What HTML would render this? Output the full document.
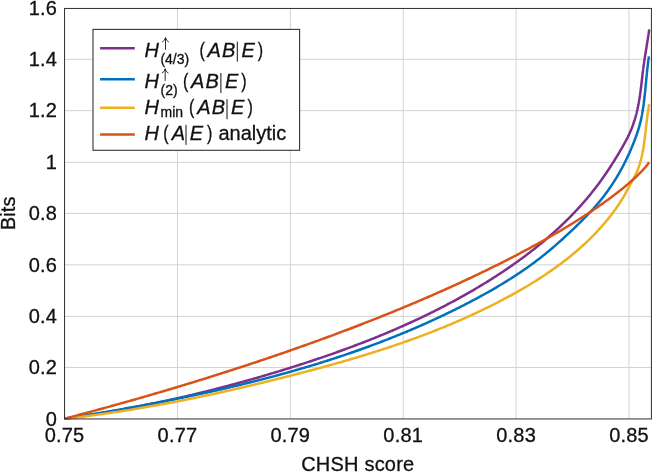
<!DOCTYPE html>
<html><head><meta charset="utf-8"><title>chart</title>
<style>
html,body{margin:0;padding:0;background:#fff;}
body{width:652px;height:472px;overflow:hidden;}
svg{display:block;font-family:"Liberation Sans",sans-serif;will-change:transform;}
text{font-size:20.0px;fill:#111;stroke:#111;stroke-width:0.3px;}
.tk text{letter-spacing:0.2px;}
.grid line{stroke:#d2d2d2;stroke-width:1;}
.cv path{fill:none;stroke-width:2.5;stroke-linejoin:round;stroke-linecap:butt;}
.it{font-style:italic;}
</style></head><body>
<svg width="652" height="472" viewBox="0 0 652 472">
<rect width="652" height="472" fill="#fff"/>
<g class="grid"><line x1="177.44" y1="8.45" x2="177.44" y2="418.95"/><line x1="290.33" y1="8.45" x2="290.33" y2="418.95"/><line x1="403.22" y1="8.45" x2="403.22" y2="418.95"/><line x1="516.11" y1="8.45" x2="516.11" y2="418.95"/><line x1="629.00" y1="8.45" x2="629.00" y2="418.95"/><line x1="64.55" y1="367.45" x2="651.4" y2="367.45"/><line x1="64.55" y1="316.35" x2="651.4" y2="316.35"/><line x1="64.55" y1="264.80" x2="651.4" y2="264.80"/><line x1="64.55" y1="213.40" x2="651.4" y2="213.40"/><line x1="64.55" y1="162.30" x2="651.4" y2="162.30"/><line x1="64.55" y1="110.65" x2="651.4" y2="110.65"/><line x1="64.55" y1="59.30" x2="651.4" y2="59.30"/></g>
<g class="cv">
<path d="M64.60,418.70 L66.10,418.50 L67.60,418.29 L69.10,418.08 L70.60,417.88 L72.10,417.67 L73.60,417.45 L75.10,417.24 L76.60,417.02 L78.10,416.80 L79.60,416.58 L81.10,416.36 L82.60,416.14 L84.11,415.91 L85.61,415.68 L87.11,415.45 L88.61,415.22 L90.11,414.99 L91.61,414.75 L93.11,414.51 L94.61,414.27 L96.11,414.03 L97.62,413.79 L99.12,413.55 L100.62,413.30 L102.12,413.05 L103.62,412.80 L105.12,412.55 L106.63,412.29 L108.13,412.04 L109.63,411.78 L111.13,411.52 L112.63,411.26 L114.13,410.99 L115.63,410.73 L117.14,410.46 L118.64,410.19 L120.14,409.92 L121.64,409.65 L123.14,409.37 L124.64,409.10 L126.14,408.82 L127.64,408.54 L129.14,408.26 L130.64,407.98 L132.14,407.69 L133.65,407.40 L135.15,407.11 L136.65,406.82 L138.15,406.53 L139.65,406.24 L141.15,405.94 L142.65,405.64 L144.15,405.34 L145.65,405.04 L147.14,404.74 L148.64,404.44 L150.14,404.13 L151.64,403.82 L153.14,403.51 L154.64,403.20 L156.14,402.89 L157.64,402.57 L159.13,402.25 L160.63,401.94 L162.13,401.62 L163.63,401.29 L165.12,400.97 L166.62,400.64 L168.12,400.32 L169.61,399.99 L171.11,399.66 L172.61,399.33 L174.10,398.99 L175.60,398.66 L177.09,398.32 L178.59,397.98 L180.08,397.64 L181.58,397.30 L183.07,396.95 L184.56,396.61 L186.06,396.26 L187.55,395.91 L189.04,395.56 L190.54,395.21 L192.03,394.85 L193.52,394.50 L195.01,394.14 L196.50,393.78 L198.00,393.42 L199.49,393.06 L200.98,392.69 L202.47,392.33 L203.96,391.96 L205.45,391.59 L206.93,391.22 L208.42,390.85 L209.91,390.47 L211.40,390.10 L212.89,389.72 L214.37,389.34 L215.86,388.96 L217.35,388.58 L218.83,388.20 L220.32,387.81 L221.80,387.43 L223.29,387.04 L224.77,386.65 L226.25,386.26 L227.74,385.86 L229.22,385.47 L230.70,385.07 L232.18,384.68 L233.67,384.28 L235.15,383.88 L236.63,383.47 L238.11,383.07 L239.59,382.67 L241.07,382.26 L242.54,381.85 L244.02,381.44 L245.50,381.03 L246.98,380.62 L248.45,380.20 L249.93,379.78 L251.41,379.37 L252.88,378.95 L254.35,378.53 L255.83,378.10 L257.30,377.68 L258.77,377.26 L260.25,376.83 L261.72,376.40 L263.19,375.97 L264.66,375.54 L266.13,375.11 L267.60,374.67 L269.07,374.24 L270.53,373.80 L272.00,373.36 L273.47,372.92 L274.94,372.48 L276.40,372.04 L277.87,371.59 L279.33,371.15 L280.79,370.70 L282.26,370.25 L283.72,369.80 L285.18,369.35 L286.64,368.90 L288.10,368.44 L289.56,367.99 L291.02,367.53 L292.48,367.07 L293.94,366.61 L295.39,366.15 L296.85,365.68 L298.31,365.22 L299.76,364.75 L301.22,364.29 L302.67,363.82 L304.12,363.35 L305.57,362.87 L307.02,362.40 L308.48,361.92 L309.93,361.45 L311.37,360.97 L312.82,360.49 L314.27,360.00 L315.72,359.52 L317.16,359.04 L318.61,358.55 L320.05,358.06 L321.50,357.57 L322.94,357.08 L324.38,356.58 L325.82,356.09 L327.26,355.59 L328.70,355.09 L330.14,354.59 L331.58,354.08 L333.02,353.58 L334.45,353.07 L335.89,352.56 L337.32,352.05 L338.76,351.54 L340.19,351.02 L341.62,350.51 L343.05,349.99 L344.48,349.47 L345.91,348.95 L347.34,348.42 L348.77,347.89 L350.19,347.37 L351.62,346.84 L353.04,346.30 L354.47,345.77 L355.89,345.23 L357.31,344.69 L358.73,344.15 L360.15,343.61 L361.57,343.06 L362.99,342.51 L364.41,341.96 L365.83,341.41 L367.24,340.86 L368.66,340.30 L370.07,339.74 L371.48,339.18 L372.89,338.62 L374.30,338.05 L375.71,337.49 L377.12,336.92 L378.53,336.34 L379.94,335.77 L381.34,335.19 L382.75,334.61 L384.15,334.03 L385.55,333.44 L386.95,332.86 L388.35,332.27 L389.75,331.68 L391.15,331.08 L392.55,330.49 L393.94,329.89 L395.34,329.29 L396.73,328.68 L398.13,328.07 L399.52,327.46 L400.91,326.85 L402.30,326.24 L403.69,325.62 L405.07,325.00 L406.46,324.38 L407.85,323.75 L409.23,323.13 L410.61,322.50 L411.99,321.86 L413.38,321.23 L414.75,320.59 L416.13,319.95 L417.51,319.30 L418.89,318.66 L420.26,318.01 L421.63,317.35 L423.01,316.70 L424.38,316.04 L425.75,315.38 L427.12,314.72 L428.48,314.05 L429.85,313.38 L431.22,312.71 L432.58,312.03 L433.94,311.35 L435.30,310.67 L436.66,309.99 L438.02,309.30 L439.38,308.61 L440.74,307.92 L442.09,307.22 L443.45,306.52 L444.80,305.82 L446.15,305.11 L447.50,304.41 L448.85,303.69 L450.20,302.98 L451.55,302.26 L452.89,301.54 L454.23,300.82 L455.58,300.09 L456.92,299.36 L458.26,298.62 L459.60,297.89 L460.93,297.15 L462.27,296.40 L463.60,295.66 L464.94,294.91 L466.27,294.15 L467.60,293.40 L468.93,292.64 L470.26,291.87 L471.58,291.11 L472.91,290.34 L474.23,289.56 L475.55,288.79 L476.87,288.01 L478.19,287.22 L479.51,286.44 L480.82,285.65 L482.14,284.85 L483.45,284.05 L484.76,283.25 L486.07,282.45 L487.37,281.64 L488.68,280.83 L489.98,280.01 L491.28,279.20 L492.58,278.37 L493.87,277.55 L495.17,276.72 L496.46,275.89 L497.75,275.05 L499.03,274.21 L500.32,273.37 L501.60,272.52 L502.88,271.67 L504.16,270.81 L505.43,269.95 L506.70,269.09 L507.97,268.23 L509.24,267.36 L510.50,266.48 L511.76,265.61 L513.02,264.73 L514.28,263.84 L515.53,262.95 L516.78,262.06 L518.03,261.17 L519.27,260.27 L520.51,259.36 L521.75,258.45 L522.98,257.54 L524.21,256.63 L525.44,255.71 L526.66,254.79 L527.89,253.86 L529.10,252.93 L530.32,251.99 L531.53,251.06 L532.74,250.11 L533.94,249.17 L535.14,248.22 L536.34,247.26 L537.53,246.30 L538.72,245.34 L539.90,244.38 L541.08,243.41 L542.26,242.43 L543.44,241.45 L544.61,240.47 L545.77,239.48 L546.93,238.49 L548.09,237.50 L549.24,236.50 L550.39,235.49 L551.54,234.49 L552.68,233.48 L553.82,232.46 L554.95,231.44 L556.08,230.42 L557.20,229.39 L558.32,228.35 L559.43,227.32 L560.54,226.28 L561.65,225.23 L562.75,224.18 L563.84,223.13 L564.93,222.07 L566.02,221.01 L567.10,219.94 L568.18,218.87 L569.25,217.79 L570.32,216.71 L571.38,215.63 L572.43,214.54 L573.48,213.45 L574.53,212.35 L575.57,211.25 L576.61,210.14 L577.64,209.03 L578.66,207.92 L579.68,206.80 L580.70,205.67 L581.71,204.54 L582.71,203.41 L583.71,202.27 L584.70,201.13 L585.69,199.98 L586.67,198.83 L587.64,197.68 L588.61,196.52 L589.57,195.35 L590.53,194.18 L591.48,193.01 L592.43,191.83 L593.37,190.65 L594.30,189.46 L595.23,188.26 L596.15,187.07 L597.07,185.86 L597.98,184.66 L598.88,183.45 L599.78,182.23 L600.67,181.01 L601.55,179.78 L602.43,178.55 L603.30,177.32 L604.17,176.07 L605.03,174.83 L605.89,173.58 L606.74,172.32 L607.58,171.07 L608.42,169.80 L609.26,168.53 L610.09,167.26 L610.92,165.98 L611.74,164.69 L612.56,163.40 L613.37,162.11 L614.18,160.81 L614.99,159.51 L615.80,158.20 L616.60,156.88 L617.40,155.56 L618.19,154.24 L618.98,152.91 L619.77,151.58 L620.56,150.24 L621.34,148.89 L622.12,147.54 L622.90,146.19 L623.21,145.64 L623.51,145.10 L623.66,144.83 L623.81,144.56 L624.11,144.02 L624.41,143.48 L624.42,143.46 L624.71,142.94 L625.00,142.40 L625.17,142.09 L625.30,141.86 L625.59,141.32 L625.88,140.77 L625.91,140.72 L626.17,140.23 L626.45,139.69 L626.63,139.34 L626.73,139.14 L627.02,138.59 L627.29,138.05 L627.34,137.95 L627.57,137.50 L627.84,136.95 L628.03,136.57 L628.11,136.40 L628.38,135.85 L628.65,135.30 L628.71,135.17 L628.91,134.75 L629.17,134.19 L629.36,133.77 L629.42,133.64 L629.68,133.09 L629.93,132.53 L630.00,132.37 L630.17,131.98 L630.42,131.42 L630.61,130.96 L630.65,130.86 L630.89,130.30 L631.12,129.75 L631.20,129.54 L631.35,129.19 L631.58,128.63 L631.77,128.13 L631.80,128.07 L632.02,127.50 L632.23,126.94 L632.32,126.70 L632.44,126.38 L632.65,125.81 L632.85,125.28 L632.86,125.25 L633.06,124.69 L633.26,124.12 L633.36,123.84 L633.46,123.55 L633.65,122.99 L633.84,122.42 L633.84,122.41 L634.03,121.85 L634.21,121.28 L634.31,120.97 L634.39,120.71 L634.57,120.14 L634.75,119.57 L634.76,119.52 L634.92,119.00 L635.09,118.43 L635.19,118.07 L635.26,117.85 L635.42,117.28 L635.58,116.71 L635.61,116.62 L635.74,116.13 L635.90,115.56 L636.00,115.17 L636.05,114.98 L636.20,114.40 L636.35,113.83 L636.38,113.70 L636.50,113.25 L636.64,112.67 L636.75,112.24 L636.78,112.09 L636.92,111.51 L637.06,110.93 L637.10,110.77 L637.19,110.35 L637.33,109.77 L637.43,109.30 L637.46,109.19 L637.58,108.61 L637.71,108.02 L637.75,107.83 L637.83,107.44 L637.95,106.86 L638.06,106.35 L638.07,106.27 L638.19,105.69 L638.30,105.10 L638.35,104.87 L638.42,104.52 L638.53,103.93 L638.63,103.38 L638.64,103.34 L638.75,102.76 L638.85,102.17 L638.90,101.90 L638.95,101.58 L639.06,100.99 L639.16,100.40 L639.16,100.40 L639.26,99.81 L639.35,99.22 L639.40,98.91 L639.45,98.63 L639.54,98.04 L639.63,97.45 L639.64,97.41 L639.72,96.86 L639.81,96.27 L639.87,95.92 L639.90,95.67 L639.99,95.08 L640.07,94.49 L640.08,94.41 L640.16,93.89 L640.24,93.30 L640.30,92.91 L640.32,92.71 L640.40,92.11 L640.48,91.52 L640.50,91.40 L640.56,90.92 L640.64,90.33 L640.70,89.90 L640.72,89.73 L640.79,89.13 L640.87,88.54 L640.89,88.38 L640.95,87.94 L641.02,87.34 L641.08,86.87 L641.09,86.74 L641.17,86.15 L641.24,85.55 L641.26,85.36 L641.31,84.95 L641.38,84.35 L641.44,83.84 L641.45,83.75 L641.52,83.15 L641.59,82.55 L641.62,82.33 L641.66,81.96 L641.73,81.36 L641.80,80.81 L641.80,80.76 L641.87,80.16 L641.94,79.56 L641.97,79.29 L642.01,78.96 L642.08,78.35 L642.15,77.77 L642.15,77.75 L642.22,77.15 L642.29,76.55 L642.32,76.25 L642.36,75.95 L642.43,75.35 L642.50,74.75 L642.50,74.72 L642.57,74.15 L642.64,73.55 L642.68,73.20 L642.71,72.94 L642.78,72.34 L642.86,71.74 L642.86,71.68 L642.93,71.14 L643.00,70.54 L643.05,70.15 L643.08,69.93 L643.15,69.33 L643.23,68.73 L643.24,68.63 L643.31,68.13 L643.38,67.53 L643.44,67.10 L643.46,66.92 L643.54,66.32 L643.62,65.72 L643.64,65.58 L643.70,65.12 L643.79,64.51 L643.85,64.05 L643.87,63.91 L643.95,63.31 L644.04,62.71 L644.07,62.53 L644.13,62.11 L644.22,61.50 L644.29,61.01 L644.30,60.90 L644.39,60.30 L644.48,59.70 L644.52,59.48 L644.58,59.10 L644.67,58.50 L644.75,57.96 L644.76,57.89 L644.85,57.29 L644.95,56.69 L644.99,56.44 L645.04,56.09 L645.14,55.49 L645.23,54.91 L645.23,54.89 L645.33,54.29 L645.42,53.69 L645.47,53.39 L645.52,53.09 L645.62,52.49 L645.72,51.89 L645.72,51.87 L645.81,51.29 L645.91,50.69 L645.97,50.36 L646.01,50.09 L646.11,49.49 L646.21,48.89 L646.21,48.84 L646.30,48.29 L646.40,47.69 L646.46,47.32 L646.50,47.09 L646.60,46.50 L646.70,45.90 L646.71,45.81 L646.79,45.30 L646.89,44.70 L646.96,44.30 L646.99,44.11 L647.08,43.51 L647.18,42.91 L647.20,42.79 L647.28,42.32 L647.37,41.72 L647.44,41.28 L647.47,41.13 L647.56,40.53 L647.66,39.94 L647.68,39.77 L647.75,39.34 L647.84,38.75 L647.92,38.27 L647.93,38.16 L648.03,37.56 L648.12,36.97 L648.15,36.77 L648.21,36.38 L648.29,35.79 L648.37,35.27 L648.38,35.19 L648.47,34.60 L648.55,34.01 L648.59,33.77 L648.64,33.42 L648.72,32.83 L648.80,32.28 L648.81,32.24 L648.89,31.65 L648.97,31.06 L649.00,30.79 L649.05,30.48 L649.12,29.89 L649.20,29.30" stroke="#7e2f8e"/>
<path d="M64.60,418.70 L66.07,418.47 L67.54,418.23 L69.01,418.00 L70.48,417.76 L71.95,417.53 L73.42,417.29 L74.89,417.05 L76.36,416.81 L77.83,416.57 L79.30,416.34 L80.77,416.10 L82.24,415.86 L83.71,415.61 L85.18,415.37 L86.65,415.13 L88.12,414.89 L89.59,414.64 L91.06,414.40 L92.54,414.16 L94.01,413.91 L95.48,413.66 L96.95,413.42 L98.42,413.17 L99.89,412.92 L101.37,412.67 L102.84,412.42 L104.31,412.17 L105.78,411.92 L107.25,411.67 L108.72,411.42 L110.20,411.17 L111.67,410.91 L113.14,410.66 L114.61,410.40 L116.08,410.15 L117.55,409.89 L119.03,409.63 L120.50,409.37 L121.97,409.12 L123.44,408.86 L124.91,408.59 L126.39,408.33 L127.86,408.07 L129.33,407.81 L130.80,407.54 L132.27,407.28 L133.74,407.01 L135.22,406.75 L136.69,406.48 L138.16,406.21 L139.63,405.94 L141.10,405.67 L142.57,405.40 L144.04,405.13 L145.51,404.85 L146.99,404.58 L148.46,404.30 L149.93,404.03 L151.40,403.75 L152.87,403.47 L154.34,403.19 L155.81,402.91 L157.28,402.63 L158.75,402.35 L160.22,402.07 L161.69,401.78 L163.16,401.50 L164.63,401.21 L166.10,400.93 L167.57,400.64 L169.03,400.35 L170.50,400.06 L171.97,399.77 L173.44,399.47 L174.91,399.18 L176.38,398.89 L177.84,398.59 L179.31,398.29 L180.78,398.00 L182.25,397.70 L183.71,397.40 L185.18,397.09 L186.65,396.79 L188.11,396.49 L189.58,396.18 L191.05,395.88 L192.51,395.57 L193.98,395.26 L195.44,394.95 L196.91,394.64 L198.37,394.33 L199.84,394.02 L201.30,393.70 L202.77,393.39 L204.23,393.07 L205.69,392.75 L207.16,392.43 L208.62,392.11 L210.08,391.79 L211.54,391.47 L213.00,391.14 L214.47,390.81 L215.93,390.49 L217.39,390.16 L218.85,389.83 L220.31,389.50 L221.77,389.16 L223.23,388.83 L224.69,388.50 L226.15,388.16 L227.61,387.82 L229.07,387.48 L230.52,387.14 L231.98,386.80 L233.44,386.45 L234.89,386.11 L236.35,385.76 L237.81,385.41 L239.26,385.07 L240.72,384.71 L242.17,384.36 L243.63,384.01 L245.08,383.65 L246.54,383.30 L247.99,382.94 L249.44,382.58 L250.89,382.22 L252.35,381.85 L253.80,381.49 L255.25,381.12 L256.70,380.76 L258.15,380.39 L259.60,380.02 L261.05,379.65 L262.50,379.27 L263.95,378.90 L265.40,378.52 L266.84,378.14 L268.29,377.76 L269.74,377.38 L271.18,377.00 L272.63,376.61 L274.07,376.23 L275.52,375.84 L276.96,375.45 L278.41,375.06 L279.85,374.66 L281.29,374.27 L282.73,373.87 L284.17,373.48 L285.62,373.08 L287.06,372.67 L288.50,372.27 L289.94,371.87 L291.37,371.46 L292.81,371.05 L294.25,370.64 L295.69,370.23 L297.12,369.82 L298.56,369.40 L300.00,368.98 L301.43,368.57 L302.86,368.14 L304.30,367.72 L305.73,367.30 L307.16,366.87 L308.60,366.44 L310.03,366.01 L311.46,365.58 L312.89,365.15 L314.32,364.71 L315.75,364.28 L317.17,363.84 L318.60,363.40 L320.03,362.95 L321.45,362.51 L322.88,362.06 L324.30,361.61 L325.73,361.16 L327.15,360.71 L328.57,360.26 L330.00,359.80 L331.42,359.34 L332.84,358.88 L334.26,358.42 L335.68,357.96 L337.10,357.49 L338.52,357.02 L339.93,356.55 L341.35,356.08 L342.77,355.61 L344.18,355.13 L345.59,354.65 L347.01,354.17 L348.42,353.69 L349.83,353.21 L351.25,352.72 L352.66,352.23 L354.07,351.74 L355.48,351.25 L356.88,350.75 L358.29,350.26 L359.70,349.76 L361.10,349.26 L362.51,348.75 L363.91,348.25 L365.32,347.74 L366.72,347.23 L368.12,346.72 L369.52,346.21 L370.92,345.69 L372.32,345.17 L373.72,344.65 L375.12,344.13 L376.52,343.60 L377.92,343.08 L379.31,342.55 L380.71,342.02 L382.10,341.48 L383.49,340.95 L384.88,340.41 L386.28,339.87 L387.67,339.32 L389.06,338.78 L390.44,338.23 L391.83,337.68 L393.22,337.13 L394.61,336.58 L395.99,336.02 L397.38,335.46 L398.76,334.90 L400.14,334.34 L401.52,333.77 L402.90,333.20 L404.28,332.63 L405.66,332.06 L407.04,331.48 L408.42,330.91 L409.79,330.33 L411.17,329.74 L412.54,329.16 L413.91,328.57 L415.29,327.98 L416.66,327.39 L418.03,326.80 L419.40,326.20 L420.77,325.60 L422.13,325.00 L423.50,324.39 L424.86,323.79 L426.23,323.18 L427.59,322.56 L428.95,321.95 L430.32,321.33 L431.68,320.71 L433.04,320.09 L434.39,319.47 L435.75,318.84 L437.11,318.21 L438.46,317.58 L439.82,316.94 L441.17,316.31 L442.52,315.67 L443.87,315.02 L445.22,314.38 L446.57,313.73 L447.92,313.08 L449.27,312.43 L450.61,311.77 L451.96,311.11 L453.30,310.45 L454.64,309.79 L455.98,309.12 L457.32,308.45 L458.66,307.78 L460.00,307.11 L461.34,306.43 L462.67,305.75 L464.01,305.07 L465.34,304.38 L466.67,303.69 L468.00,303.00 L469.33,302.31 L470.66,301.61 L471.99,300.92 L473.32,300.21 L474.64,299.51 L475.97,298.80 L477.29,298.09 L478.61,297.38 L479.93,296.66 L481.25,295.94 L482.56,295.22 L483.88,294.49 L485.19,293.76 L486.50,293.03 L487.81,292.30 L489.12,291.56 L490.42,290.82 L491.72,290.07 L493.02,289.32 L494.32,288.57 L495.62,287.81 L496.91,287.05 L498.20,286.29 L499.49,285.52 L500.78,284.75 L502.06,283.98 L503.35,283.20 L504.62,282.42 L505.90,281.63 L507.17,280.84 L508.44,280.05 L509.71,279.25 L510.98,278.45 L512.24,277.65 L513.50,276.84 L514.75,276.02 L516.00,275.20 L517.25,274.38 L518.50,273.56 L519.74,272.73 L520.98,271.89 L522.21,271.05 L523.45,270.21 L524.67,269.36 L525.90,268.51 L527.12,267.65 L528.34,266.79 L529.55,265.92 L530.76,265.05 L531.97,264.17 L533.17,263.29 L534.36,262.41 L535.56,261.52 L536.75,260.62 L537.93,259.72 L539.11,258.82 L540.29,257.91 L541.46,256.99 L542.63,256.07 L543.79,255.14 L544.95,254.21 L546.10,253.28 L547.25,252.34 L548.39,251.39 L549.53,250.44 L550.67,249.49 L551.80,248.53 L552.93,247.56 L554.05,246.59 L555.17,245.62 L556.29,244.65 L557.40,243.67 L558.51,242.68 L559.62,241.69 L560.72,240.70 L561.82,239.71 L562.92,238.71 L564.02,237.71 L565.11,236.70 L566.20,235.69 L567.28,234.68 L568.37,233.67 L569.45,232.66 L570.53,231.64 L571.61,230.62 L572.69,229.59 L573.76,228.57 L574.84,227.54 L575.91,226.51 L576.97,225.48 L578.04,224.45 L579.10,223.41 L580.16,222.37 L581.22,221.33 L582.27,220.28 L583.32,219.23 L584.37,218.18 L585.41,217.12 L586.44,216.06 L587.47,214.99 L588.50,213.92 L589.52,212.84 L590.53,211.76 L591.54,210.67 L592.54,209.58 L593.54,208.48 L594.52,207.38 L595.50,206.27 L596.48,205.15 L597.44,204.03 L598.40,202.90 L599.35,201.76 L600.29,200.62 L601.22,199.47 L602.14,198.31 L603.05,197.15 L603.96,195.97 L604.85,194.79 L605.74,193.61 L606.62,192.42 L607.49,191.22 L608.35,190.01 L609.20,188.80 L610.04,187.58 L610.88,186.35 L611.70,185.12 L612.52,183.88 L613.33,182.64 L614.13,181.39 L614.92,180.13 L615.70,178.87 L616.48,177.60 L617.24,176.33 L618.00,175.05 L618.75,173.76 L619.49,172.47 L620.01,171.54 L620.22,171.18 L620.31,171.01 L620.60,170.49 L620.89,169.96 L620.94,169.87 L621.18,169.44 L621.47,168.91 L621.65,168.57 L621.75,168.38 L622.04,167.85 L622.32,167.32 L622.36,167.26 L622.61,166.79 L622.89,166.26 L623.06,165.94 L623.17,165.73 L623.44,165.20 L623.72,164.66 L623.74,164.62 L624.00,164.13 L624.27,163.59 L624.42,163.29 L624.54,163.05 L624.81,162.52 L625.08,161.98 L625.10,161.96 L625.35,161.44 L625.62,160.90 L625.76,160.62 L625.89,160.36 L626.15,159.82 L626.41,159.28 L626.41,159.28 L626.67,158.73 L626.94,158.19 L627.06,157.93 L627.19,157.65 L627.45,157.10 L627.70,156.58 L627.71,156.55 L627.96,156.01 L628.22,155.46 L628.33,155.22 L628.47,154.91 L628.72,154.36 L628.95,153.86 L628.97,153.81 L629.22,153.26 L629.46,152.71 L629.56,152.50 L629.71,152.16 L629.95,151.61 L630.16,151.13 L630.19,151.06 L630.43,150.50 L630.67,149.95 L630.76,149.75 L630.91,149.39 L631.15,148.84 L631.35,148.37 L631.39,148.28 L631.62,147.72 L631.85,147.17 L631.92,146.99 L632.08,146.61 L632.31,146.05 L632.50,145.61 L632.54,145.49 L632.77,144.93 L633.00,144.37 L633.06,144.22 L633.22,143.80 L633.45,143.24 L633.61,142.82 L633.67,142.68 L633.89,142.12 L634.11,141.55 L634.16,141.42 L634.33,140.99 L634.54,140.42 L634.69,140.02 L634.76,139.85 L634.97,139.29 L635.18,138.72 L635.22,138.62 L635.39,138.15 L635.60,137.58 L635.74,137.21 L635.81,137.02 L636.02,136.45 L636.22,135.88 L636.25,135.80 L636.42,135.31 L636.63,134.73 L636.75,134.38 L636.82,134.16 L637.02,133.59 L637.22,133.02 L637.23,132.96 L637.41,132.44 L637.60,131.87 L637.71,131.54 L637.79,131.30 L637.97,130.72 L638.15,130.15 L638.17,130.11 L638.34,129.57 L638.51,128.99 L638.61,128.68 L638.69,128.42 L638.86,127.84 L639.03,127.26 L639.03,127.25 L639.20,126.68 L639.36,126.10 L639.44,125.82 L639.53,125.52 L639.68,124.94 L639.83,124.38 L639.84,124.36 L639.99,123.78 L640.14,123.20 L640.21,122.94 L640.29,122.62 L640.43,122.04 L640.56,121.49 L640.57,121.45 L640.70,120.87 L640.84,120.29 L640.89,120.05 L640.97,119.70 L641.10,119.12 L641.21,118.60 L641.22,118.53 L641.34,117.95 L641.46,117.36 L641.51,117.15 L641.58,116.78 L641.70,116.19 L641.79,115.69 L641.81,115.60 L641.92,115.02 L642.03,114.43 L642.06,114.24 L642.14,113.84 L642.24,113.25 L642.32,112.78 L642.34,112.66 L642.44,112.08 L642.54,111.49 L642.57,111.32 L642.64,110.90 L642.73,110.31 L642.80,109.86 L642.83,109.72 L642.92,109.12 L643.01,108.53 L643.03,108.39 L643.10,107.94 L643.19,107.35 L643.25,106.93 L643.27,106.76 L643.36,106.17 L643.44,105.57 L643.46,105.46 L643.52,104.98 L643.60,104.39 L643.66,103.99 L643.68,103.79 L643.76,103.20 L643.84,102.61 L643.85,102.51 L643.92,102.01 L643.99,101.42 L644.04,101.04 L644.06,100.82 L644.14,100.23 L644.21,99.63 L644.22,99.56 L644.28,99.03 L644.35,98.44 L644.39,98.09 L644.42,97.84 L644.49,97.25 L644.55,96.65 L644.56,96.61 L644.62,96.05 L644.69,95.45 L644.72,95.13 L644.75,94.86 L644.82,94.26 L644.88,93.66 L644.88,93.64 L644.94,93.06 L645.00,92.47 L645.04,92.16 L645.07,91.87 L645.13,91.27 L645.19,90.68 L645.19,90.67 L645.25,90.07 L645.31,89.47 L645.34,89.19 L645.37,88.87 L645.43,88.27 L645.48,87.71 L645.49,87.67 L645.54,87.07 L645.60,86.47 L645.63,86.22 L645.66,85.87 L645.72,85.27 L645.77,84.73 L645.77,84.67 L645.83,84.07 L645.89,83.47 L645.91,83.24 L645.95,82.87 L646.00,82.27 L646.05,81.75 L646.06,81.67 L646.12,81.07 L646.17,80.47 L646.19,80.26 L646.23,79.86 L646.29,79.26 L646.34,78.77 L646.35,78.66 L646.41,78.06 L646.46,77.46 L646.48,77.28 L646.52,76.86 L646.58,76.26 L646.63,75.79 L646.64,75.65 L646.70,75.05 L646.76,74.45 L646.77,74.30 L646.82,73.85 L646.88,73.25 L646.92,72.80 L646.94,72.64 L647.00,72.04 L647.06,71.44 L647.08,71.31 L647.13,70.84 L647.19,70.23 L647.23,69.82 L647.25,69.63 L647.32,69.03 L647.39,68.43 L647.40,68.33 L647.45,67.83 L647.52,67.22 L647.56,66.83 L647.59,66.62 L647.66,66.02 L647.73,65.42 L647.73,65.34 L647.80,64.82 L647.87,64.21 L647.91,63.85 L647.94,63.61 L648.01,63.01 L648.09,62.41 L648.10,62.36 L648.17,61.81 L648.24,61.20 L648.29,60.87 L648.32,60.60 L648.40,60.00 L648.48,59.40 L648.48,59.37 L648.56,58.80 L648.65,58.20 L648.69,57.88 L648.73,57.59 L648.82,56.99 L648.91,56.39" stroke="#0072bd"/>
<path d="M64.60,418.70 L66.01,418.55 L67.42,418.39 L68.83,418.24 L70.24,418.08 L71.65,417.92 L73.06,417.76 L74.47,417.60 L75.88,417.43 L77.29,417.27 L78.70,417.10 L80.12,416.93 L81.53,416.75 L82.94,416.58 L84.35,416.41 L85.76,416.23 L87.17,416.05 L88.59,415.87 L90.00,415.69 L91.41,415.50 L92.82,415.32 L94.24,415.13 L95.65,414.94 L97.06,414.75 L98.47,414.56 L99.89,414.36 L101.30,414.17 L102.71,413.97 L104.13,413.77 L105.54,413.57 L106.95,413.37 L108.37,413.17 L109.78,412.96 L111.19,412.75 L112.61,412.55 L114.02,412.34 L115.43,412.12 L116.85,411.91 L118.26,411.70 L119.67,411.48 L121.09,411.26 L122.50,411.04 L123.91,410.82 L125.33,410.60 L126.74,410.37 L128.16,410.15 L129.57,409.92 L130.98,409.69 L132.40,409.46 L133.81,409.23 L135.23,409.00 L136.64,408.76 L138.05,408.52 L139.47,408.29 L140.88,408.05 L142.29,407.81 L143.71,407.57 L145.12,407.32 L146.54,407.08 L147.95,406.83 L149.36,406.58 L150.78,406.33 L152.19,406.08 L153.60,405.83 L155.02,405.58 L156.43,405.32 L157.84,405.07 L159.26,404.81 L160.67,404.55 L162.08,404.29 L163.49,404.03 L164.91,403.77 L166.32,403.50 L167.73,403.24 L169.15,402.97 L170.56,402.70 L171.97,402.43 L173.38,402.16 L174.79,401.89 L176.21,401.62 L177.62,401.34 L179.03,401.06 L180.44,400.79 L181.85,400.51 L183.27,400.23 L184.68,399.95 L186.09,399.67 L187.50,399.38 L188.91,399.10 L190.32,398.81 L191.73,398.53 L193.14,398.24 L194.55,397.95 L195.96,397.66 L197.37,397.36 L198.78,397.07 L200.19,396.78 L201.60,396.48 L203.01,396.19 L204.42,395.89 L205.83,395.59 L207.23,395.29 L208.64,394.99 L210.05,394.69 L211.46,394.38 L212.87,394.08 L214.27,393.77 L215.68,393.47 L217.09,393.16 L218.50,392.85 L219.90,392.54 L221.31,392.23 L222.71,391.92 L224.12,391.60 L225.53,391.29 L226.93,390.98 L228.34,390.66 L229.74,390.34 L231.15,390.02 L232.55,389.70 L233.95,389.38 L235.36,389.06 L236.76,388.74 L238.17,388.42 L239.57,388.09 L240.97,387.77 L242.37,387.44 L243.78,387.12 L245.18,386.79 L246.58,386.46 L247.98,386.13 L249.38,385.80 L250.78,385.47 L252.18,385.13 L253.58,384.80 L254.98,384.47 L256.38,384.13 L257.78,383.80 L259.18,383.46 L260.58,383.12 L261.97,382.78 L263.37,382.44 L264.77,382.10 L266.17,381.76 L267.56,381.42 L268.96,381.08 L270.35,380.73 L271.75,380.39 L273.14,380.04 L274.54,379.70 L275.93,379.35 L277.33,379.00 L278.72,378.65 L280.11,378.30 L281.51,377.95 L282.90,377.60 L284.29,377.25 L285.68,376.90 L287.07,376.54 L288.46,376.19 L289.85,375.84 L291.24,375.48 L292.63,375.13 L294.02,374.77 L295.41,374.41 L296.80,374.05 L298.19,373.69 L299.57,373.33 L300.96,372.97 L302.35,372.61 L303.73,372.25 L305.12,371.89 L306.50,371.52 L307.89,371.16 L309.27,370.79 L310.65,370.42 L312.04,370.06 L313.42,369.69 L314.80,369.32 L316.18,368.95 L317.56,368.57 L318.95,368.20 L320.33,367.83 L321.70,367.45 L323.08,367.08 L324.46,366.70 L325.84,366.32 L327.22,365.94 L328.59,365.56 L329.97,365.18 L331.35,364.80 L332.72,364.41 L334.10,364.03 L335.47,363.64 L336.85,363.25 L338.22,362.87 L339.59,362.47 L340.96,362.08 L342.33,361.69 L343.71,361.30 L345.08,360.90 L346.45,360.50 L347.81,360.11 L349.18,359.71 L350.55,359.31 L351.92,358.90 L353.29,358.50 L354.65,358.09 L356.02,357.69 L357.38,357.28 L358.75,356.87 L360.11,356.46 L361.47,356.04 L362.84,355.63 L364.20,355.21 L365.56,354.80 L366.92,354.38 L368.28,353.96 L369.64,353.53 L371.00,353.11 L372.36,352.68 L373.72,352.26 L375.07,351.83 L376.43,351.40 L377.78,350.97 L379.14,350.53 L380.49,350.10 L381.85,349.66 L383.20,349.22 L384.55,348.78 L385.90,348.33 L387.25,347.89 L388.60,347.44 L389.95,346.99 L391.30,346.54 L392.65,346.09 L394.00,345.63 L395.34,345.18 L396.69,344.72 L398.04,344.26 L399.38,343.80 L400.72,343.33 L402.07,342.87 L403.41,342.40 L404.75,341.93 L406.09,341.46 L407.43,340.98 L408.77,340.50 L410.11,340.03 L411.45,339.54 L412.78,339.06 L414.12,338.58 L415.46,338.09 L416.79,337.60 L418.13,337.11 L419.46,336.61 L420.79,336.12 L422.12,335.62 L423.45,335.12 L424.78,334.62 L426.11,334.11 L427.44,333.60 L428.77,333.09 L430.10,332.58 L431.42,332.06 L432.75,331.55 L434.07,331.03 L435.40,330.51 L436.72,329.98 L438.04,329.45 L439.36,328.93 L440.68,328.39 L442.00,327.86 L443.32,327.32 L444.64,326.78 L445.95,326.24 L447.27,325.70 L448.59,325.15 L449.90,324.60 L451.21,324.05 L452.53,323.49 L453.84,322.93 L455.15,322.37 L456.46,321.81 L457.77,321.25 L459.08,320.68 L460.38,320.11 L461.69,319.53 L462.99,318.96 L464.30,318.38 L465.60,317.79 L466.91,317.21 L468.21,316.62 L469.51,316.03 L470.81,315.44 L472.11,314.84 L473.41,314.24 L474.70,313.64 L476.00,313.03 L477.29,312.43 L478.59,311.81 L479.88,311.20 L481.17,310.58 L482.47,309.96 L483.76,309.34 L485.05,308.71 L486.34,308.09 L487.62,307.45 L488.91,306.82 L490.20,306.18 L491.48,305.54 L492.76,304.89 L494.05,304.25 L495.33,303.60 L496.61,302.94 L497.89,302.28 L499.17,301.62 L500.45,300.96 L501.72,300.29 L503.00,299.62 L504.27,298.95 L505.54,298.27 L506.82,297.59 L508.09,296.91 L509.36,296.22 L510.62,295.53 L511.89,294.84 L513.15,294.14 L514.42,293.44 L515.68,292.73 L516.94,292.03 L518.20,291.31 L519.45,290.60 L520.70,289.88 L521.96,289.16 L523.21,288.43 L524.45,287.70 L525.70,286.96 L526.94,286.23 L528.18,285.48 L529.42,284.74 L530.65,283.99 L531.89,283.23 L533.12,282.48 L534.34,281.72 L535.57,280.95 L536.79,280.18 L538.01,279.41 L539.23,278.63 L540.44,277.85 L541.65,277.06 L542.86,276.27 L544.06,275.47 L545.26,274.68 L546.46,273.87 L547.65,273.06 L548.84,272.25 L550.03,271.44 L551.21,270.62 L552.39,269.79 L553.57,268.96 L554.74,268.13 L555.91,267.29 L557.07,266.44 L558.23,265.60 L559.39,264.74 L560.54,263.89 L561.69,263.03 L562.83,262.16 L563.97,261.29 L565.11,260.41 L566.24,259.53 L567.37,258.65 L568.49,257.76 L569.61,256.86 L570.72,255.96 L571.83,255.05 L572.93,254.14 L574.03,253.23 L575.12,252.31 L576.21,251.38 L577.30,250.45 L578.38,249.52 L579.45,248.58 L580.52,247.63 L581.58,246.68 L582.64,245.73 L583.69,244.76 L584.74,243.80 L585.78,242.83 L586.81,241.85 L587.84,240.87 L588.87,239.88 L589.89,238.89 L590.90,237.89 L591.91,236.88 L592.91,235.87 L593.90,234.86 L594.89,233.84 L595.87,232.81 L596.85,231.78 L597.82,230.74 L598.78,229.70 L599.74,228.65 L600.69,227.59 L601.63,226.53 L602.57,225.47 L603.50,224.39 L604.42,223.31 L605.34,222.23 L606.25,221.14 L607.16,220.04 L608.05,218.94 L608.94,217.84 L609.82,216.72 L610.70,215.60 L610.84,215.42 L611.21,214.94 L611.57,214.48 L611.57,214.47 L611.94,213.99 L612.30,213.51 L612.43,213.34 L612.66,213.03 L613.02,212.55 L613.28,212.20 L613.38,212.07 L613.73,211.59 L614.09,211.11 L614.13,211.06 L614.44,210.63 L614.80,210.14 L614.96,209.91 L615.15,209.65 L615.50,209.17 L615.79,208.75 L615.85,208.68 L616.19,208.19 L616.54,207.70 L616.62,207.59 L616.89,207.21 L617.23,206.71 L617.43,206.42 L617.57,206.22 L617.91,205.73 L618.24,205.24 L618.25,205.23 L618.59,204.73 L618.92,204.23 L619.04,204.06 L619.26,203.73 L619.59,203.23 L619.83,202.87 L619.92,202.73 L620.25,202.23 L620.57,201.73 L620.60,201.68 L620.89,201.22 L621.21,200.71 L621.36,200.48 L621.53,200.21 L621.84,199.70 L622.10,199.27 L622.15,199.19 L622.46,198.68 L622.76,198.17 L622.83,198.06 L623.06,197.66 L623.36,197.14 L623.54,196.84 L623.66,196.63 L623.95,196.11 L624.24,195.62 L624.25,195.60 L624.54,195.08 L624.83,194.56 L624.93,194.39 L625.12,194.04 L625.41,193.52 L625.61,193.15 L625.69,193.00 L625.98,192.47 L626.26,191.95 L626.29,191.91 L626.55,191.43 L626.84,190.90 L626.97,190.66 L627.12,190.37 L627.41,189.85 L627.64,189.41 L627.69,189.32 L627.98,188.79 L628.26,188.26 L628.32,188.15 L628.55,187.73 L628.84,187.19 L629.01,186.89 L629.13,186.66 L629.42,186.13 L629.70,185.62 L629.72,185.59 L630.01,185.06 L630.31,184.52 L630.41,184.34 L630.61,183.98 L630.91,183.44 L631.12,183.06 L631.21,182.90 L631.51,182.36 L631.81,181.82 L631.83,181.78 L632.10,181.28 L632.40,180.73 L632.54,180.49 L632.70,180.19 L633.00,179.64 L633.24,179.20 L633.29,179.10 L633.58,178.55 L633.87,178.00 L633.92,177.90 L634.15,177.45 L634.44,176.90 L634.59,176.59 L634.71,176.35 L634.99,175.80 L635.24,175.28 L635.26,175.25 L635.52,174.70 L635.78,174.14 L635.87,173.97 L636.04,173.59 L636.29,173.03 L636.46,172.65 L636.54,172.48 L636.78,171.92 L637.02,171.36 L637.03,171.33 L637.25,170.80 L637.48,170.24 L637.58,170.00 L637.70,169.68 L637.92,169.12 L638.10,168.67 L638.14,168.56 L638.35,168.00 L638.55,167.43 L638.59,167.33 L638.76,166.87 L638.95,166.30 L639.06,165.99 L639.15,165.74 L639.34,165.17 L639.51,164.64 L639.52,164.60 L639.70,164.04 L639.88,163.47 L639.93,163.29 L640.05,162.90 L640.22,162.33 L640.33,161.94 L640.39,161.76 L640.55,161.19 L640.70,160.61 L640.71,160.58 L640.86,160.04 L641.01,159.47 L641.07,159.22 L641.16,158.89 L641.30,158.32 L641.41,157.86 L641.44,157.74 L641.58,157.16 L641.71,156.59 L641.73,156.49 L641.84,156.01 L641.97,155.43 L642.04,155.11 L642.10,154.85 L642.22,154.27 L642.34,153.74 L642.35,153.69 L642.47,153.11 L642.58,152.53 L642.62,152.36 L642.70,151.95 L642.81,151.36 L642.88,150.97 L642.92,150.78 L643.03,150.20 L643.13,149.61 L643.14,149.59 L643.24,149.03 L643.34,148.44 L643.38,148.20 L643.43,147.85 L643.53,147.27 L643.60,146.80 L643.62,146.68 L643.71,146.09 L643.80,145.50 L643.82,145.41 L643.89,144.92 L643.98,144.33 L644.02,144.01 L644.06,143.74 L644.14,143.15 L644.21,142.61 L644.22,142.56 L644.30,141.96 L644.38,141.37 L644.40,141.21 L644.45,140.78 L644.53,140.19 L644.58,139.80 L644.60,139.60 L644.68,139.00 L644.75,138.41 L644.75,138.39 L644.82,137.82 L644.89,137.22 L644.92,136.98 L644.96,136.63 L645.03,136.03 L645.08,135.57 L645.09,135.44 L645.16,134.84 L645.23,134.24 L645.24,134.15 L645.30,133.65 L645.36,133.05 L645.40,132.74 L645.43,132.45 L645.50,131.86 L645.56,131.32 L645.56,131.26 L645.63,130.66 L645.70,130.06 L645.72,129.90 L645.77,129.46 L645.83,128.86 L645.88,128.48 L645.90,128.26 L645.97,127.67 L646.04,127.07 L646.04,127.05 L646.11,126.47 L646.17,125.87 L646.20,125.63 L646.24,125.26 L646.31,124.66 L646.37,124.20 L646.38,124.06 L646.45,123.46 L646.53,122.86 L646.54,122.78 L646.60,122.26 L646.67,121.66 L646.71,121.35 L646.74,121.06 L646.82,120.46 L646.88,119.92 L646.89,119.85 L646.97,119.25 L647.04,118.65 L647.06,118.49 L647.12,118.05 L647.20,117.44 L647.25,117.06 L647.28,116.84 L647.36,116.24 L647.44,115.64 L647.44,115.63 L647.52,115.03 L647.60,114.43 L647.63,114.20 L647.69,113.83 L647.77,113.23 L647.84,112.77 L647.86,112.62 L647.94,112.02 L648.03,111.42 L648.04,111.34 L648.12,110.81 L648.21,110.21 L648.26,109.91 L648.31,109.61 L648.40,109.01 L648.48,108.48 L648.49,108.40 L648.59,107.80 L648.69,107.20 L648.71,107.04 L648.79,106.59 L648.89,105.99 L648.95,105.61 L648.99,105.39 L649.10,104.79 L649.20,104.18" stroke="#edb120"/>
<path d="M64.55,418.70 L66.50,418.19 L68.46,417.67 L70.41,417.16 L72.37,416.64 L74.32,416.12 L76.28,415.60 L78.23,415.08 L80.19,414.56 L82.14,414.04 L84.10,413.51 L86.05,412.99 L88.01,412.46 L89.96,411.94 L91.92,411.41 L93.87,410.88 L95.83,410.35 L97.78,409.81 L99.74,409.28 L101.69,408.74 L103.65,408.21 L105.60,407.67 L107.56,407.13 L109.51,406.59 L111.47,406.05 L113.42,405.51 L115.38,404.96 L117.33,404.42 L119.29,403.87 L121.24,403.32 L123.20,402.77 L125.15,402.22 L127.11,401.67 L129.06,401.12 L131.02,400.56 L132.97,400.01 L134.93,399.45 L136.88,398.89 L138.83,398.33 L140.79,397.77 L142.74,397.21 L144.70,396.65 L146.65,396.08 L148.61,395.52 L150.56,394.95 L152.52,394.38 L154.47,393.81 L156.43,393.24 L158.38,392.66 L160.34,392.09 L162.29,391.51 L164.25,390.94 L166.20,390.36 L168.16,389.78 L170.11,389.19 L172.07,388.61 L174.02,388.03 L175.98,387.44 L177.93,386.85 L179.89,386.26 L181.84,385.67 L183.80,385.08 L185.75,384.49 L187.71,383.89 L189.66,383.30 L191.62,382.70 L193.57,382.10 L195.53,381.50 L197.48,380.90 L199.44,380.30 L201.39,379.69 L203.35,379.08 L205.30,378.48 L207.26,377.87 L209.21,377.26 L211.16,376.64 L213.12,376.03 L215.07,375.41 L217.03,374.80 L218.98,374.18 L220.94,373.56 L222.89,372.93 L224.85,372.31 L226.80,371.69 L228.76,371.06 L230.71,370.43 L232.67,369.80 L234.62,369.17 L236.58,368.54 L238.53,367.90 L240.49,367.26 L242.44,366.63 L244.40,365.99 L246.35,365.34 L248.31,364.70 L250.26,364.06 L252.22,363.41 L254.17,362.76 L256.13,362.11 L258.08,361.46 L260.04,360.81 L261.99,360.15 L263.95,359.49 L265.90,358.84 L267.86,358.18 L269.81,357.51 L271.77,356.85 L273.72,356.18 L275.68,355.52 L277.63,354.85 L279.59,354.18 L281.54,353.50 L283.49,352.83 L285.45,352.15 L287.40,351.47 L289.36,350.79 L291.31,350.11 L293.27,349.43 L295.22,348.74 L297.18,348.05 L299.13,347.36 L301.09,346.67 L303.04,345.98 L305.00,345.28 L306.95,344.59 L308.91,343.89 L310.86,343.19 L312.82,342.48 L314.77,341.78 L316.73,341.07 L318.68,340.36 L320.64,339.65 L322.59,338.94 L324.55,338.22 L326.50,337.50 L328.46,336.78 L330.41,336.06 L332.37,335.34 L334.32,334.61 L336.28,333.89 L338.23,333.16 L340.19,332.42 L342.14,331.69 L344.10,330.95 L346.05,330.21 L348.01,329.47 L349.96,328.73 L351.92,327.98 L353.87,327.24 L355.83,326.49 L357.78,325.73 L359.73,324.98 L361.69,324.22 L363.64,323.46 L365.60,322.70 L367.55,321.94 L369.51,321.17 L371.46,320.41 L373.42,319.63 L375.37,318.86 L377.33,318.09 L379.28,317.31 L381.24,316.53 L383.19,315.74 L385.15,314.96 L387.10,314.17 L389.06,313.38 L391.01,312.59 L392.97,311.79 L394.92,310.99 L396.88,310.19 L398.83,309.39 L400.79,308.58 L402.74,307.77 L404.70,306.96 L406.65,306.15 L408.61,305.33 L410.56,304.51 L412.52,303.69 L414.47,302.86 L416.43,302.03 L418.38,301.20 L420.34,300.37 L422.29,299.53 L424.25,298.69 L426.20,297.85 L428.16,297.00 L430.11,296.15 L432.06,295.30 L434.02,294.44 L435.97,293.59 L437.93,292.73 L439.88,291.86 L441.84,290.99 L443.79,290.12 L445.75,289.25 L447.70,288.37 L449.66,287.49 L451.61,286.61 L453.57,285.72 L455.52,284.83 L457.48,283.93 L459.43,283.04 L461.39,282.14 L463.34,281.23 L465.30,280.32 L467.25,279.41 L469.21,278.50 L471.16,277.58 L473.12,276.65 L475.07,275.73 L477.03,274.80 L478.98,273.86 L480.94,272.92 L482.89,271.98 L484.85,271.03 L486.80,270.08 L488.76,269.13 L490.71,268.17 L492.67,267.21 L494.62,266.24 L496.58,265.27 L498.53,264.29 L500.49,263.31 L502.44,262.33 L504.39,261.34 L506.35,260.34 L508.30,259.35 L510.26,258.34 L512.21,257.33 L514.17,256.32 L516.12,255.30 L518.08,254.28 L520.03,253.25 L521.99,252.22 L523.94,251.18 L525.90,250.14 L527.85,249.09 L529.81,248.03 L531.76,246.97 L533.72,245.91 L535.67,244.83 L537.63,243.76 L539.58,242.67 L541.54,241.58 L543.49,240.49 L545.45,239.38 L547.40,238.27 L549.36,237.16 L551.31,236.04 L553.27,234.91 L555.22,233.77 L557.18,232.63 L559.13,231.48 L561.09,230.32 L563.04,229.15 L565.00,227.98 L566.95,226.80 L568.91,225.61 L570.86,224.41 L572.82,223.20 L574.77,221.98 L576.72,220.76 L578.68,219.52 L580.63,218.28 L582.59,217.03 L584.54,215.76 L586.50,214.49 L588.45,213.20 L590.41,211.91 L592.36,210.60 L594.32,209.28 L596.27,207.94 L598.23,206.60 L600.18,205.24 L602.14,203.87 L604.09,202.48 L606.05,201.08 L608.00,199.66 L609.96,198.22 L611.91,196.77 L613.87,195.30 L615.82,193.81 L617.78,192.30 L619.73,190.76 L621.69,189.21 L623.64,187.63 L625.60,186.02 L627.55,184.38 L629.51,182.71 L631.46,181.00 L633.42,179.25 L635.37,177.46 L637.33,175.62 L639.28,173.72 L641.24,171.75 L643.19,169.69 L645.15,167.50 L647.10,165.13 L649.05,162.26" stroke="#d95319"/>
</g>
<rect x="64.55" y="8.45" width="586.85" height="410.50" fill="none" stroke="#2e2e2e" stroke-width="1"/>
<g class="tk"><text x="64.55" y="441.9" text-anchor="middle">0.75</text><text x="177.44" y="441.9" text-anchor="middle">0.77</text><text x="290.33" y="441.9" text-anchor="middle">0.79</text><text x="403.22" y="441.9" text-anchor="middle">0.81</text><text x="516.11" y="441.9" text-anchor="middle">0.83</text><text x="629.00" y="441.9" text-anchor="middle">0.85</text><text x="57.2" y="425.60" text-anchor="end">0</text><text x="57.2" y="374.25" text-anchor="end">0.2</text><text x="57.2" y="323.15" text-anchor="end">0.4</text><text x="57.2" y="271.60" text-anchor="end">0.6</text><text x="57.2" y="220.20" text-anchor="end">0.8</text><text x="57.2" y="169.10" text-anchor="end">1</text><text x="57.2" y="117.45" text-anchor="end">1.2</text><text x="57.2" y="66.10" text-anchor="end">1.4</text><text x="57.2" y="15.00" text-anchor="end">1.6</text>
<text x="357.8" y="471.0" text-anchor="middle">CHSH score</text>
<text transform="translate(14.9,213.3) rotate(-90)" text-anchor="middle">Bits</text>
</g>
<g class="lg">
<rect x="93.0" y="29.4" width="206.6" height="120.9" fill="#fff" stroke="#333" stroke-width="1.1"/>
<line x1="100.1" y1="48.3" x2="134.8" y2="48.3" stroke="#7e2f8e" stroke-width="2.5"/>
<line x1="100.1" y1="79.2" x2="134.8" y2="79.2" stroke="#0072bd" stroke-width="2.5"/>
<line x1="100.1" y1="107.7" x2="134.8" y2="107.7" stroke="#edb120" stroke-width="2.5"/>
<line x1="100.1" y1="134.4" x2="134.8" y2="134.4" stroke="#d95319" stroke-width="2.5"/>
<text x="144.50" y="56.7" class="it">H</text><path d="M165.5,37.8 V49.9" stroke="#1a1a1a" stroke-width="0.9" fill="none"/><path d="M162.2,42.0 Q164.9,40.7 165.5,37.5 Q166.1,40.7 168.8,42.0" stroke="#1a1a1a" stroke-width="0.9" fill="none"/><text x="160.40" y="63.7" style="font-size:14.0px">(4/3)</text><text transform="translate(199.40,56.7) scale(0.8,1)">(</text><text x="207.50" y="56.7" class="it">A</text><text x="222.00" y="56.7" class="it">B</text><line x1="237.3" y1="41.7" x2="237.3" y2="61.7" stroke="#111" stroke-width="1"/><text x="241.40" y="56.7" class="it">E</text><text transform="translate(257.70,56.7) scale(0.8,1)">)</text><text x="144.50" y="88.0" class="it">H</text><path d="M165.2,69.0 V80.9" stroke="#1a1a1a" stroke-width="0.9" fill="none"/><path d="M161.89999999999998,73.2 Q164.6,71.9 165.2,68.7 Q165.79999999999998,71.9 168.5,73.2" stroke="#1a1a1a" stroke-width="0.9" fill="none"/><text x="160.50" y="95.1" style="font-size:14.0px">(2)</text><text transform="translate(183.00,88.0) scale(0.8,1)">(</text><text x="191.10" y="88.0" class="it">A</text><text x="205.60" y="88.0" class="it">B</text><line x1="220.9" y1="73.0" x2="220.9" y2="93.0" stroke="#111" stroke-width="1"/><text x="225.00" y="88.0" class="it">E</text><text transform="translate(241.30,88.0) scale(0.8,1)">)</text><text x="144.50" y="114.2" class="it">H</text><text x="160.60" y="116.6" style="font-size:14.0px">min</text><text transform="translate(189.10,114.2) scale(0.8,1)">(</text><text x="197.20" y="114.2" class="it">A</text><text x="211.70" y="114.2" class="it">B</text><line x1="227.0" y1="99.2" x2="227.0" y2="119.2" stroke="#111" stroke-width="1"/><text x="231.10" y="114.2" class="it">E</text><text transform="translate(247.40,114.2) scale(0.8,1)">)</text><text x="144.50" y="139.9" class="it">H</text><text transform="translate(163.30,139.9) scale(0.8,1)">(</text><text x="171.70" y="139.9" class="it">A</text><line x1="186.0" y1="124.9" x2="186.0" y2="144.9" stroke="#111" stroke-width="1"/><text x="189.70" y="139.9" class="it">E</text><text transform="translate(206.90,139.9) scale(0.8,1)">)</text><text x="218.50" y="139.9">analytic</text>
</g>
</svg>
</body></html>
